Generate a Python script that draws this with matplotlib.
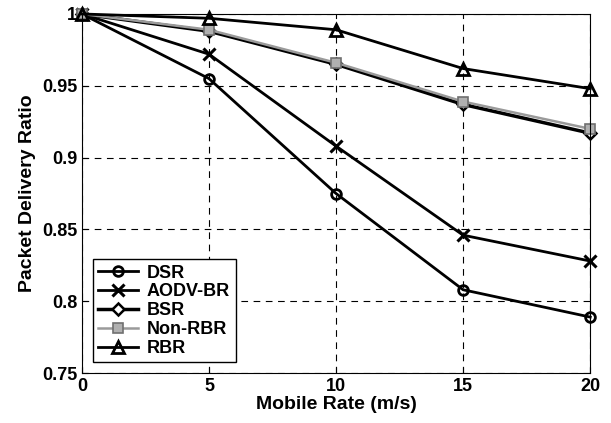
import matplotlib.pyplot as plt

rate = [0, 5, 10, 15, 20]
dsr = [1.0, 0.955, 0.875, 0.808, 0.789]
aodv_br = [1.0, 0.972, 0.908, 0.846, 0.828]
bsr = [1.0, 0.988, 0.965, 0.937, 0.917]
non_rbr = [1.0, 0.989, 0.966, 0.939, 0.920]
rbr = [1.0, 0.997, 0.989, 0.962, 0.948]

plt.rcParams['font.family'] = 'Liberation Sans'
plt.rcParams['font.weight'] = 'bold'

fig = plt.figure(figsize=(6.11, 4.23), dpi=100)
ax = fig.add_axes([0.134, 0.118, 0.832, 0.849])

ax.plot(rate, dsr, color='black', lw=2, marker='o', ms=7, mfc='none', mew=2,
        label='DSR', clip_on=False)
ax.plot(rate, aodv_br, color='black', lw=2, marker='x', ms=8, mew=2.2,
        label='AODV-BR', clip_on=False)
ax.plot(rate, bsr, color='black', lw=2.5, marker='D', ms=6, mfc='white', mew=1.8,
        label='BSR', clip_on=False)
ax.plot(rate, non_rbr, color='#9a9a9a', lw=1.8, marker='s', ms=7, mfc='#b0b0b0', mec='#707070',
        mew=1.2, label='Non-RBR', clip_on=False)
ax.plot(rate, rbr, color='black', lw=2, marker='^', ms=8, mfc='none', mew=2,
        label='RBR', clip_on=False)

ax.set_xlim(0, 20)
ax.set_ylim(0.75, 1.0)
ax.set_xticks([0, 5, 10, 15, 20])
ax.set_yticks([0.75, 0.8, 0.85, 0.9, 0.95, 1.0])
ax.set_yticklabels(['0.75', '0.8', '0.85', '0.9', '0.95', '1'])
ax.tick_params(direction='in', labelsize=13, length=4)
ax.grid(True, color='black', linestyle=(0, (6, 5)), linewidth=0.8)

ax.set_xlabel('Mobile Rate (m/s)', fontsize=14, fontweight='bold', labelpad=1)
ax.set_ylabel('Packet Delivery Ratio', fontsize=14, fontweight='bold', labelpad=4)

leg = ax.legend(loc='lower left', fontsize=13, fancybox=False, edgecolor='black',
                framealpha=1, borderaxespad=0.6, handlelength=2.2, labelspacing=0.1,
                borderpad=0.3, handletextpad=0.5)
leg.get_frame().set_linewidth(1.0)

fig.savefig('out.png', dpi=100)
